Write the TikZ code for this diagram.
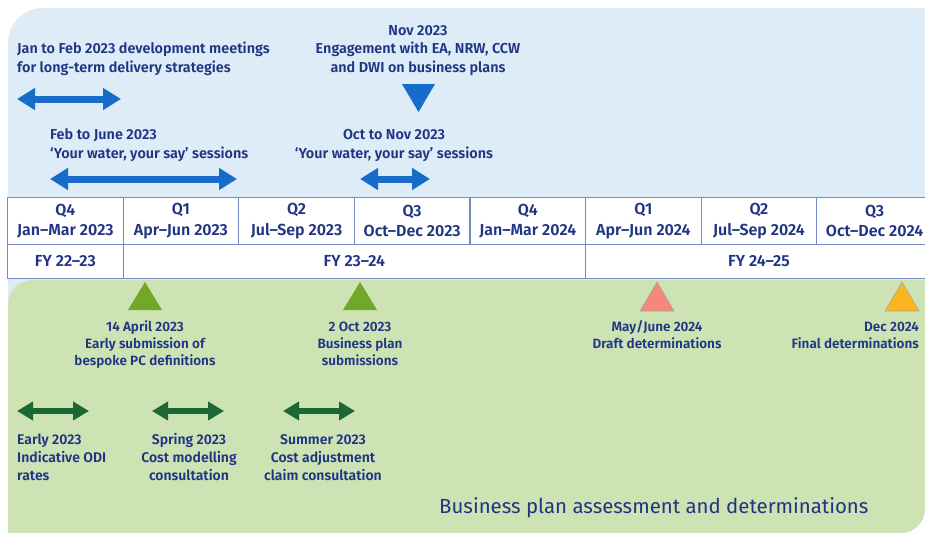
\documentclass[tikz,border=0pt]{standalone}
\usepackage{fontspec}
\setmainfont{Fira Sans}[BoldFont={Fira Sans SemiBold}]
\usetikzlibrary{arrows.meta}
\definecolor{bgblue}{RGB}{221,236,246}
\definecolor{bggreen}{RGB}{205,227,180}
\definecolor{txtblue}{RGB}{32,52,132}
\definecolor{arrblue}{RGB}{22,108,200}
\definecolor{arrgreen}{RGB}{28,104,50}
\definecolor{trigreen}{RGB}{112,168,42}
\definecolor{trisalmon}{RGB}{245,136,120}
\definecolor{triorange}{RGB}{250,180,32}
\definecolor{tableline}{RGB}{120,138,196}
\begin{document}
\begin{tikzpicture}[x=1pt,y=-1pt,
  lbl/.style={inner sep=0pt, text=txtblue, align=center,
    font=\fontsize{13.5}{16.7}\selectfont\bfseries},
  toplbl/.style={lbl, font=\fontsize{14.4}{18.2}\selectfont\bfseries},
  botlbl/.style={lbl, font=\fontsize{14}{17.6}\selectfont\bfseries},
  cell/.style={draw=tableline, line width=1.1pt, fill=white, inner sep=0pt,
    anchor=north west, text=txtblue, align=center,
    font=\fontsize{16}{20.5}\selectfont\bfseries},
  barrow/.style={line width=7pt, arrblue,
    {Triangle[length=18pt,width=21pt]}-{Triangle[length=18pt,width=21pt]}},
  garrow/.style={line width=6pt, arrgreen,
    {Triangle[length=16pt,width=18pt]}-{Triangle[length=16pt,width=18pt]}},
  tri/.style={draw=gray!70, line width=0.6pt}
]
\useasboundingbox (0,0) rectangle (925,533);
\fill[white] (0,0) rectangle (925,533);
% backgrounds
\fill[bgblue, rounded corners=35pt] (8,8) rectangle (925,330);
\fill[bgblue] (880,8) rectangle (925,50);
\fill[bggreen, rounded corners=24pt] (8,280) rectangle (925,533);
\fill[bggreen] (890,280) rectangle (925,320);
\fill[bggreen] (8,500) rectangle (40,533);

% top labels (anchor = baseline of last line)
\node[toplbl, align=left, anchor=base west] (t1) at (17,72)
  {Jan to Feb 2023 development meetings\\for long-term delivery strategies};
\node[toplbl, anchor=base] (t2) at (418,72)
  {Nov 2023\\Engagement with EA, NRW, CCW\\and DWI on business plans};
\node[toplbl, align=left, anchor=base west] (t3) at (50,158)
  {Feb to June 2023\\`Your water, your say' sessions};
\node[toplbl, anchor=base] (t4) at (394,158)
  {Oct to Nov 2023\\`Your water, your say' sessions};

% blue arrows
\coordinate (a1l) at (17,99);  \coordinate (a1r) at (121,99);
\coordinate (a2l) at (50,179); \coordinate (a2r) at (237,179);
\coordinate (a3l) at (360,179); \coordinate (a3r) at (430,179);
\draw[barrow] (a1l) -- (a1r);
\draw[barrow] (a2l) -- (a2r);
\draw[barrow] (a3l) -- (a3r);
\fill[arrblue] (402,84) -- (435,84) -- (418.5,112) -- cycle;

% table
\node[cell, minimum width=115.6pt, minimum height=47pt] (c1) at (7,197) {Q4\\Jan--Mar 2023};
\node[cell, minimum width=115.6pt, minimum height=47pt] (c2) at (122.6,197) {Q1\\Apr--Jun 2023};
\node[cell, minimum width=115.6pt, minimum height=47pt] (c3) at (238.2,197) {Q2\\Jul--Sep 2023};
\node[cell, minimum width=115.6pt, minimum height=47pt] (c4) at (353.8,197) {Q3\\Oct--Dec 2023};
\node[cell, minimum width=115.6pt, minimum height=47pt] (c5) at (469.4,197) {Q4\\Jan--Mar 2024};
\node[cell, minimum width=115.6pt, minimum height=47pt] (c6) at (585,197) {Q1\\Apr--Jun 2024};
\node[cell, minimum width=115.6pt, minimum height=47pt] (c7) at (700.6,197) {Q2\\Jul--Sep 2024};
\node[cell, minimum width=115.6pt, minimum height=47pt] (c8) at (816.2,197) {Q3\\Oct--Dec 2024};
\node[cell, minimum width=115.6pt, minimum height=34pt] (f1) at (7,244) {FY 22--23};
\node[cell, minimum width=462.4pt, minimum height=34pt] (f2) at (122.6,244) {FY 23--24};
\node[cell, minimum width=346.8pt, minimum height=34pt] (f3) at (585,244) {FY 24--25};

% milestone triangles
\fill[trigreen] (145,282) -- (162,310) -- (128,310) -- cycle;
\fill[trigreen] (360,282) -- (377,310) -- (343,310) -- cycle;
\filldraw[tri, fill=trisalmon] (657,282) -- (674,311) -- (640,311) -- cycle;
\filldraw[tri, fill=triorange] (902,282) -- (919,311) -- (885,311) -- cycle;

\node[lbl, anchor=base] (m1) at (145,365)
  {14 April 2023\\Early submission of\\bespoke PC definitions};
\node[lbl, anchor=base] (m2) at (360,365)
  {2 Oct 2023\\Business plan\\submissions};
\node[lbl, anchor=base] (m3) at (657,348.5)
  {May/June 2024\\Draft determinations};
\node[lbl, align=right, anchor=base east] (m4) at (919,348.5)
  {Dec 2024\\Final determinations};

% green arrows
\coordinate (g1l) at (17,411);  \coordinate (g1r) at (89,411);
\coordinate (g2l) at (152,411); \coordinate (g2r) at (224,411);
\coordinate (g3l) at (283,411); \coordinate (g3r) at (355,411);
\draw[garrow] (g1l) -- (g1r);
\draw[garrow] (g2l) -- (g2r);
\draw[garrow] (g3l) -- (g3r);

\node[botlbl, align=left, anchor=base west] (b1) at (17,480)
  {Early 2023\\Indicative ODI\\rates};
\node[botlbl, anchor=base] (b2) at (189,480)
  {Spring 2023\\Cost modelling\\consultation};
\node[botlbl, anchor=base] (b3) at (323,480)
  {Summer 2023\\Cost adjustment\\claim consultation};

\node[inner sep=0pt, text=txtblue, anchor=base west,
  font=\fontsize{20.4}{23}\selectfont] (title) at (439,513)
  {Business plan assessment and determinations};
\end{tikzpicture}
\end{document}
